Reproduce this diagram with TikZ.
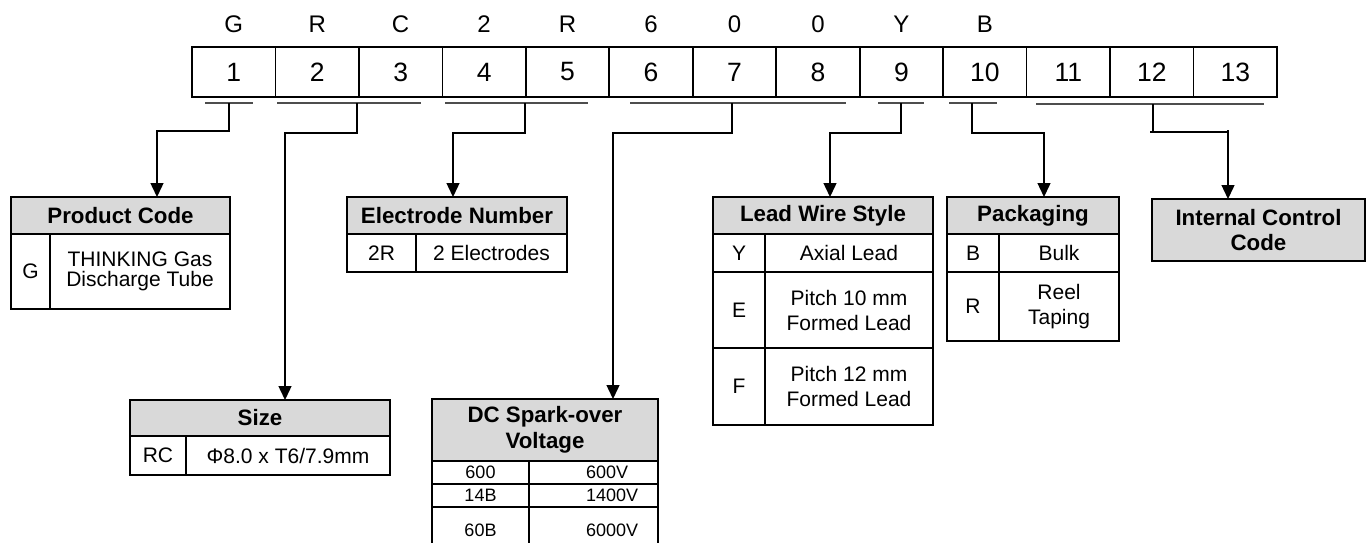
\documentclass[tikz,border=0pt]{standalone}
\usepackage{fontspec}
\setmainfont{Liberation Sans}
\usetikzlibrary{arrows.meta}
\definecolor{hdgray}{HTML}{D9D9D9}
\definecolor{ulgray}{HTML}{4D4D4D}
\tikzset{
  cellbase/.style={draw=black,line width=1.7pt,inner sep=0pt,outer sep=0pt,align=center,
    font=\fontsize{21}{25}\selectfont},
  headcell/.style={fill=hdgray,font=\bfseries\fontsize{22.3}{25}\selectfont},
  smallcell/.style={font=\fontsize{18}{20}\selectfont},
  smalltext/.style={inner sep=0pt,font=\fontsize{18}{20}\selectfont},
  digitcell/.style={draw=black,line width=1.7pt,inner sep=0pt,outer sep=0pt,
    minimum width=83.46pt,minimum height=50pt,font=\fontsize{26.5}{28}\selectfont},
  letter/.style={inner sep=0pt,font=\fontsize{24}{28}\selectfont},
  uline/.style={draw=ulgray,line width=1.8pt},
  arr/.style={draw=black,line width=1.4pt,-{Triangle[width=13pt,length=14pt]}},
  conn/.style={draw=black,line width=1.4pt},
}
% name, x1, y1, x2, y2, extra style, text
\newcommand\cellbox[7]{%
  \node[cellbase,#6,minimum width={#4pt-#2pt},minimum height={#5pt-#3pt}] (#1)
    at ({(#2+#4)/2},{(#3+#5)/2}) {#7};}
\begin{document}
\begin{tikzpicture}[x=1pt,y=-1pt]
\useasboundingbox (0,0) rectangle (1370,542);
\clip (0,0) rectangle (1370,542);

% ---- code letters and position boxes
\foreach \c [count=\i] in {G,R,C,2,R,6,0,0,Y,B}
  \node[letter] (l\i) at ({192+(\i-0.5)*83.4615},24) {\c};
\foreach \i in {1,...,13}
  \node[digitcell] (d\i) at ({192+(\i-0.5)*83.4615},72) {\i};

% ---- group underlines
\coordinate (u1a) at (205,103);  \coordinate (u1b) at (253,103);
\coordinate (u2a) at (277,103);  \coordinate (u2b) at (421,103);
\coordinate (u3a) at (445,103);  \coordinate (u3b) at (588,103);
\coordinate (u4a) at (630,103);  \coordinate (u4b) at (846,103);
\coordinate (u5a) at (878,103);  \coordinate (u5b) at (924,103);
\coordinate (u6a) at (949,103);  \coordinate (u6b) at (997,103);
\coordinate (u7a) at (1036,104); \coordinate (u7b) at (1264,104);
\foreach \k in {1,...,7} \draw[uline] (u\k a) -- (u\k b);

% connector starts
\coordinate (g1) at (229,103);
\coordinate (g2) at (357,103);
\coordinate (g3) at (525,103);
\coordinate (g4) at (732,103);
\coordinate (g5) at (901,103);
\coordinate (g6) at (972,103);
\coordinate (g7) at (1153,104);

% ---- Product Code
\cellbox{pch}{11}{197}{230}{234}{headcell}{Product Code}
\cellbox{pck}{11}{234}{50}{309}{}{G}
\cellbox{pcv}{50}{234}{230}{309}{font=\fontsize{21}{19.5}\selectfont}{THINKING Gas\\Discharge Tube}

% ---- Electrode Number
\cellbox{enh}{347}{197}{567}{234}{headcell}{Electrode Number}
\cellbox{enk}{347}{234}{416}{272}{}{2R}
\cellbox{env}{416}{234}{567}{272}{}{2 Electrodes}

% ---- Size
\cellbox{szh}{130}{400}{390}{436}{headcell}{Size}
\cellbox{szk}{130}{436}{186}{475}{}{RC}
\cellbox{szv}{186}{436}{390}{475}{}{Φ8.0 x T6/7.9mm}

% ---- DC Spark-over Voltage
\cellbox{dch}{432}{399}{658}{461}{headcell,font=\bfseries\fontsize{22.3}{26}\selectfont}{DC Spark-over\\Voltage}
\cellbox{dck1}{432}{461}{529}{484}{smallcell}{600}
\cellbox{dcv1}{529}{461}{658}{484}{}{}
\cellbox{dck2}{432}{484}{529}{507}{smallcell}{14B}
\cellbox{dcv2}{529}{484}{658}{507}{}{}
\cellbox{dck3}{432}{507}{529}{560}{smallcell}{}
\cellbox{dcv3}{529}{507}{658}{560}{}{}
\node[smalltext,anchor=center] (dct3) at (480.5,530) {60B};
\node[smalltext,anchor=west] (dcvt1) at (586,472.5) {600V};
\node[smalltext,anchor=west] (dcvt2) at (586,495.5) {1400V};
\node[smalltext,anchor=west] (dcvt3) at (586,530) {6000V};

% ---- Lead Wire Style
\cellbox{lwh}{713}{197}{933}{234}{headcell}{Lead Wire Style}
\cellbox{lwk1}{713}{234}{765}{272}{}{Y}
\cellbox{lwv1}{765}{234}{933}{272}{}{Axial Lead}
\cellbox{lwk2}{713}{272}{765}{348}{}{E}
\cellbox{lwv2}{765}{272}{933}{348}{}{Pitch 10 mm\\Formed Lead}
\cellbox{lwk3}{713}{348}{765}{425}{}{F}
\cellbox{lwv3}{765}{348}{933}{425}{}{Pitch 12 mm\\Formed Lead}

% ---- Packaging
\cellbox{pkh}{947}{197}{1119}{234}{headcell}{Packaging}
\cellbox{pkk1}{947}{234}{999}{272}{}{B}
\cellbox{pkv1}{999}{234}{1119}{272}{}{Bulk}
\cellbox{pkk2}{947}{272}{999}{341}{}{R}
\cellbox{pkv2}{999}{272}{1119}{341}{}{Reel\\Taping}

% ---- Internal Control Code
\cellbox{icc}{1152}{199}{1365}{261}{headcell}{Internal Control\\Code}

% ---- arrow targets
\coordinate (pcin) at (157,197);
\coordinate (szin) at (285,400);
\coordinate (enin) at (453,197);
\coordinate (dcin) at (613,399);
\coordinate (lwin) at (830,197);
\coordinate (pkin) at (1044,197);
\coordinate (icin) at (1228,199);

% ---- connectors
\draw[arr] (g1) -- ++(0,28) -| (pcin);
\draw[arr] (g2) -- ++(0,30) -| (szin);
\draw[arr] (g3) -- ++(0,30) -| (enin);
\draw[arr] (g4) -- ++(0,30) -| (dcin);
\draw[arr] (g5) -- ++(0,30) -| (lwin);
\draw[arr] (g6) -- ++(0,30) -| (pkin);
\draw[conn] (g7) -- ++(0,28) -- ++(-3,0);
\draw[arr] (g7) ++(0,28) -- ++(75,0) -- ++(0,-2) -- (icin);
\end{tikzpicture}
\end{document}
